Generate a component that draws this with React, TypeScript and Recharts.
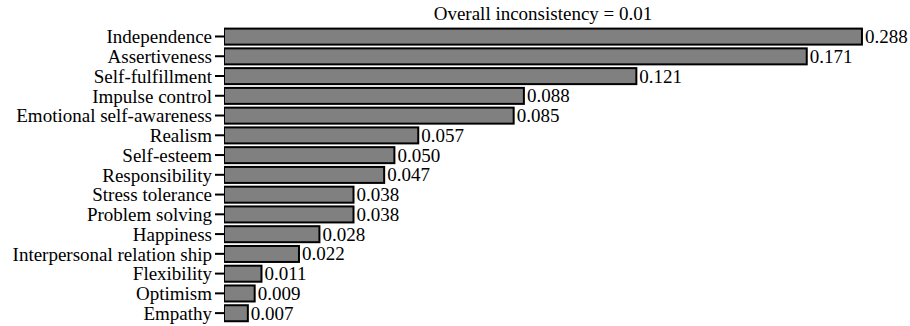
import { BarChart, Bar, XAxis, YAxis } from "recharts"

const criteria = [
  "Independence",
  "Assertiveness",
  "Self-fulfillment",
  "Impulse control",
  "Emotional self-awareness",
  "Realism",
  "Self-esteem",
  "Responsibility",
  "Stress tolerance",
  "Problem solving",
  "Happiness",
  "Interpersonal relation ship",
  "Flexibility",
  "Optimism",
  "Empathy",
]

const weights = [0.288, 0.171, 0.121, 0.088, 0.085, 0.057, 0.05, 0.047, 0.038, 0.038, 0.028, 0.022, 0.011, 0.009, 0.007]

const title = "Overall inconsistency = 0.01"

// the longest bar is cut off at this value (axis break)
const BREAK_AT = 0.1872
const AXIS_MAX = 0.2013

const data = criteria.map((name, i) => ({ name, value: weights[i] }))

const FONT = "Liberation Serif, serif"

const BarWithLabel = (props: any) => {
  const { x, y, width, height, payload } = props
  const v = payload.value
  const perUnit = width / v
  const w = v > BREAK_AT ? BREAK_AT * perUnit : width
  return (
    <g>
      <rect x={x} y={y} width={w} height={height} fill="#808080" stroke="#000" strokeWidth={2} />
      <text
        x={x + w + 3}
        y={y + height / 2}
        dominantBaseline="central"
        fontFamily={FONT}
        fontSize={19}
        fill="#000"
      >
        {v.toFixed(3)}
      </text>
    </g>
  )
}

export default function App() {
  return (
    <div style={{ position: "absolute", left: 0, top: 0, width: 910, height: 326, background: "#fff" }}>
      <div
        style={{
          position: "absolute",
          left: 343,
          top: 3,
          width: 400,
          textAlign: "center",
          fontFamily: FONT,
          fontSize: 19,
          lineHeight: "22px",
          color: "#000",
        }}
      >
        {title}
      </div>
      <BarChart
        width={910}
        height={326}
        data={data}
        layout="vertical"
        margin={{ top: 26.6, right: 0, left: 0, bottom: 3 }}
        barSize={16}
      >
        <XAxis type="number" hide domain={[0, AXIS_MAX]} allowDataOverflow />
        <YAxis
          type="category"
          dataKey="name"
          width={224}
          axisLine={false}
          tickSize={9}
          tickMargin={3}
          tickLine={{ stroke: "#000", strokeWidth: 2 }}
          interval={0}
          tick={{ fill: "#000", fontSize: 19, fontFamily: FONT }}
        />
        <Bar dataKey="value" shape={BarWithLabel} isAnimationActive={false} />
      </BarChart>
    </div>
  )
}
